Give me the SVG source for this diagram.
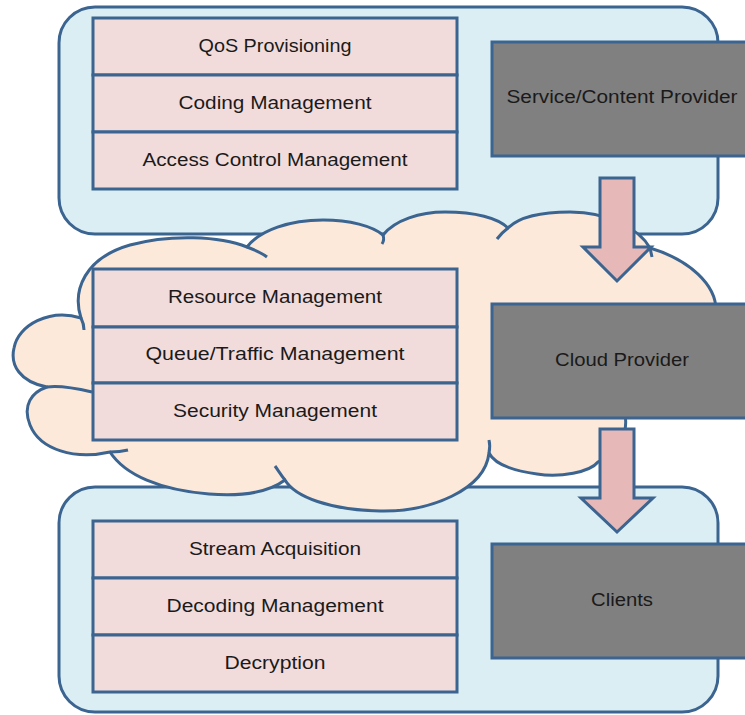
<svg xmlns="http://www.w3.org/2000/svg" width="745" height="715" viewBox="0 0 745 715">
<style>
.panel{fill:#daeef3;stroke:#3b6490;stroke-width:3}
.cloud{fill:#fde9d9;stroke:#3b6490;stroke-width:3;stroke-linejoin:round}
.inner{fill:none;stroke:#3b6490;stroke-width:3}
.row{fill:#f2dcdb;stroke:#3b6490;stroke-width:3}
.gray{fill:#808080;stroke:#3b6490;stroke-width:3}
.arrow{fill:#e6b9b8;stroke:#3b6490;stroke-width:3;stroke-linejoin:miter}
text{font-family:"Liberation Sans",Arial,sans-serif;font-size:17.5px;fill:#1a1a1a;text-anchor:middle;dominant-baseline:central}
</style>
<rect width="745" height="715" fill="#ffffff"/>
<g id="top-panel">
<rect class="panel" x="59" y="7" width="659" height="227" rx="36"/>
</g>
<g id="bottom-panel">
<rect class="panel" x="59" y="487" width="659" height="225" rx="36"/>
</g>
<g id="cloud">
<path class="cloud" d="M81,318 C72,290 85,258 130,245 C170,234 220,236 247,247 C260,230 290,220 323,220 C350,220 372,226 383,235 C395,220 420,212 445,212 C475,212 498,218 508,228 C520,216 545,212 570,212 C610,212 640,230 650,248 C690,260 716,285 716,310 C718,340 720,380 690,400 C670,412 640,412 625,415 C628,430 620,455 598,462 C590,472 560,478 537,474 C515,471 495,465 489,453 C485,490 430,512 380,511 C330,510 295,497 285,480 C265,495 235,496 209,494 C160,490 125,475 110,452 C75,460 40,450 30,425 C22,405 32,392 47,387 C20,382 10,365 14,348 C18,325 50,308 81,318 Z"/>
<path class="inner" d="M247,247 C255,250 262,253 267,257"/>
<path class="inner" d="M383,235 C384,238 384,241 382,244"/>
<path class="inner" d="M508,228 C504,231 500,235 497,239"/>
<path class="inner" d="M650,248 L652,257"/>
<path class="inner" d="M81,318 C83,322 84,326 84,330"/>
<path class="inner" d="M47,387 C60,385 75,388 92,392"/>
<path class="inner" d="M110,452 C118,452 124,451 128,450"/>
<path class="inner" d="M285,480 C281,475 278,470 275,466"/>
<path class="inner" d="M489,453 C490,448 490,444 489,440"/>
</g>
<g id="service-stack">
<rect class="row" x="93" y="18" width="364" height="57"/>
<rect class="row" x="93" y="75" width="364" height="57"/>
<rect class="row" x="93" y="132" width="364" height="57"/>
<text x="275" y="46" textLength="153" lengthAdjust="spacingAndGlyphs">QoS Provisioning</text>
<text x="275" y="103" textLength="193" lengthAdjust="spacingAndGlyphs">Coding Management</text>
<text x="275" y="160" textLength="265" lengthAdjust="spacingAndGlyphs">Access Control Management</text>
</g>
<g id="service-provider">
<rect class="gray" x="492" y="42" width="270" height="114"/>
<text x="622" y="97" textLength="231" lengthAdjust="spacingAndGlyphs">Service/Content Provider</text>
</g>
<g id="cloud-stack">
<rect class="row" x="93" y="269" width="364" height="58"/>
<rect class="row" x="93" y="327" width="364" height="56"/>
<rect class="row" x="93" y="383" width="364" height="57"/>
<text x="275" y="297" textLength="214" lengthAdjust="spacingAndGlyphs">Resource Management</text>
<text x="275" y="354" textLength="259" lengthAdjust="spacingAndGlyphs">Queue/Traffic Management</text>
<text x="275" y="411" textLength="204" lengthAdjust="spacingAndGlyphs">Security Management</text>
</g>
<g id="cloud-provider">
<rect class="gray" x="492" y="304" width="270" height="114"/>
<text x="622" y="360" textLength="134" lengthAdjust="spacingAndGlyphs">Cloud Provider</text>
</g>
<g id="client-stack">
<rect class="row" x="93" y="521" width="364" height="57"/>
<rect class="row" x="93" y="578" width="364" height="57"/>
<rect class="row" x="93" y="635" width="364" height="57"/>
<text x="275" y="549" textLength="172" lengthAdjust="spacingAndGlyphs">Stream Acquisition</text>
<text x="275" y="606" textLength="217" lengthAdjust="spacingAndGlyphs">Decoding Management</text>
<text x="275" y="663" textLength="101" lengthAdjust="spacingAndGlyphs">Decryption</text>
</g>
<g id="clients">
<rect class="gray" x="492" y="544" width="270" height="114"/>
<text x="622" y="600" textLength="62" lengthAdjust="spacingAndGlyphs">Clients</text>
</g>
<g id="connectors">
<path class="arrow" d="M600,178 L634,178 L634,247 L651,247 L617,281 L583,247 L600,247 Z"/>
<path class="arrow" d="M600,429 L634,429 L634,498 L653,498 L617,532 L581,498 L600,498 Z"/>
</g>
</svg>
